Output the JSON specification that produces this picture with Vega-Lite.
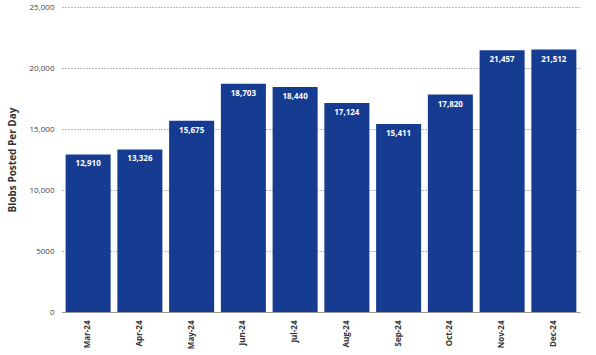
{
  "$schema": "https://vega.github.io/schema/vega-lite/v6.json",
  "width": 518,
  "height": 305,
  "autosize": {"type": "none"},
  "padding": {"left": 62, "top": 7, "right": 16, "bottom": 43},
  "background": "white",
  "config": {"view": {"stroke": null}, "font": "Open Sans"},
  "data": {
    "values": [
      {"month": "Mar-24", "blobs": 12910},
      {"month": "Apr-24", "blobs": 13326},
      {"month": "May-24", "blobs": 15675},
      {"month": "Jun-24", "blobs": 18703},
      {"month": "Jul-24", "blobs": 18440},
      {"month": "Aug-24", "blobs": 17124},
      {"month": "Sep-24", "blobs": 15411},
      {"month": "Oct-24", "blobs": 17820},
      {"month": "Nov-24", "blobs": 21457},
      {"month": "Dec-24", "blobs": 21512}
    ]
  },
  "encoding": {
    "x": {
      "field": "month", "type": "nominal", "sort": null,
      "scale": {"paddingInner": 0.13, "paddingOuter": 0.07},
      "axis": {
        "title": null, "labelAngle": -90, "labelFontSize": 8, "labelFontWeight": "bold",
        "labelColor": "#333333", "ticks": false, "labelPadding": 8,
        "domainColor": "#999999", "labelAlign": "right", "labelBaseline": "middle"
      }
    },
    "y": {
      "field": "blobs", "type": "quantitative",
      "scale": {"domain": [0, 25000]},
      "axis": {
        "title": "Blobs Posted Per Day", "titleFontSize": 10, "titleFontWeight": "bold",
        "titleColor": "#333333", "titlePadding": 12,
        "values": [0, 5000, 10000, 15000, 20000, 25000],
        "labelExpr": "datum.value >= 10000 ? format(datum.value, ',') : format(datum.value, 'd')",
        "labelFontSize": 8, "labelColor": "#444444", "labelPadding": 8,
        "domain": false, "ticks": false,
        "gridDash": [1, 2], "gridColor": "#777777", "gridWidth": 1
      }
    }
  },
  "layer": [
    {"mark": {"type": "bar", "color": "#163c92"}},
    {
      "mark": {"type": "text", "baseline": "top", "dy": 6, "color": "white", "fontWeight": "bold", "fontSize": 8},
      "encoding": {"text": {"field": "blobs", "type": "quantitative", "format": ","}}
    }
  ]
}
